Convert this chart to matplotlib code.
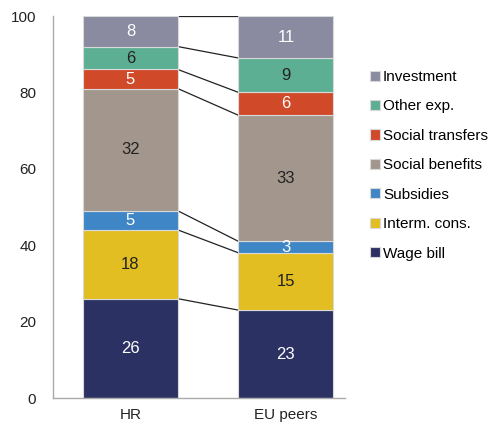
import numpy as np
import matplotlib.pyplot as plt

plt.rcParams['font.family'] = ['Liberation Sans', 'DejaVu Sans']

# data
groups = ['HR', 'EU peers']
series = ['Wage bill', 'Interm. cons.', 'Subsidies', 'Social benefits',
          'Social transfers', 'Other exp.', 'Investment']
hr_values = [26, 18, 5, 32, 5, 6, 8]
eu_values = [23, 15, 3, 33, 6, 9, 11]
colors = ['#2b3263', '#e2be22', '#3f86c6', '#a3978d',
          '#d04a2a', '#5daf94', '#8a8aa0']
text_colors = ['white', '#222222', 'white', '#222222',
               'white', '#222222', 'white']

fig = plt.figure(figsize=(4.93, 4.26), dpi=100)
ax = fig.add_axes([53 / 493, 28 / 426, 292 / 493, 382 / 426])

x = np.arange(len(groups))
width = 0.61
data = np.array([hr_values, eu_values])
bottoms = np.zeros(len(groups))
handles = []
for i, name in enumerate(series):
    vals = data[:, i]
    bars = ax.bar(x, vals, width, bottom=bottoms, color=colors[i],
                  edgecolor='#d9d9d9', linewidth=0.8, label=name, zorder=2)
    handles.append(bars)
    for xi, v, b in zip(x, vals, bottoms):
        ax.text(xi, b + v / 2, str(v), ha='center', va='center',
                fontsize=12, color=text_colors[i], zorder=3)
    bottoms = bottoms + vals

# connector lines between the segment boundaries
hr_cum = np.cumsum(hr_values)
eu_cum = np.cumsum(eu_values)
for a, b in zip(hr_cum, eu_cum):
    ax.plot([x[0] + width / 2, x[1] - width / 2], [a, b],
            color='#222222', linewidth=0.9, zorder=1)

ax.set_ylim(0, 100)
ax.set_xlim(-0.498, 1.38)
ax.set_xticks(x)
ax.set_xticklabels(groups)
ax.set_yticks(np.arange(0, 101, 20))
ax.tick_params(axis='both', length=0, labelsize=11, colors='#222222')
ax.tick_params(axis='x', pad=7)
ax.tick_params(axis='y', pad=12)
for side in ['top', 'right']:
    ax.spines[side].set_visible(False)
for side in ['left', 'bottom']:
    ax.spines[side].set_color('#aaaaaa')
    ax.spines[side].set_linewidth(1.0)

fig.legend(handles[::-1], series[::-1], loc='upper left',
           bbox_to_anchor=(370 / 493, 1 - 70 / 426), frameon=False,
           fontsize=11, handlelength=0.65, handleheight=0.65,
           handletextpad=0.2, labelspacing=1.01, borderaxespad=0,
           borderpad=0)

fig.savefig('out.png', dpi=100)
